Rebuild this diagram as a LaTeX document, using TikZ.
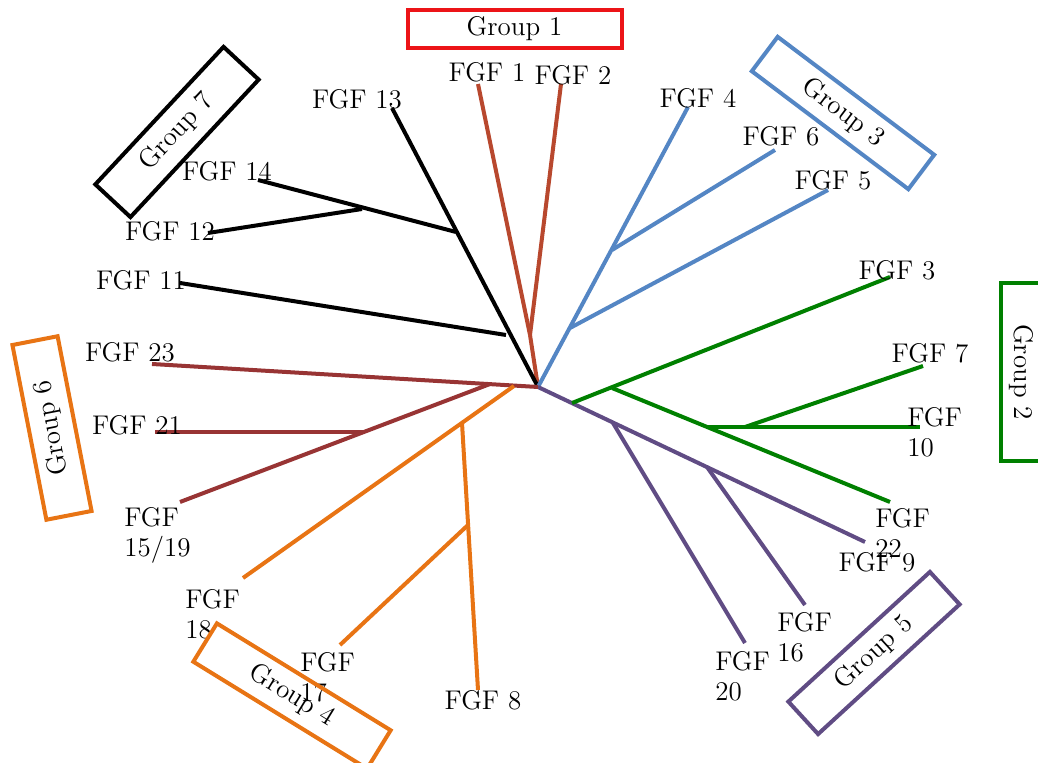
\documentclass[tikz,border=0pt]{standalone}
\usepackage{tikz}
\usetikzlibrary{positioning}
\definecolor{grpone}{RGB}{184,72,46}
\definecolor{boxone}{RGB}{236,20,24}
\definecolor{grptwo}{RGB}{0,128,0}
\definecolor{grpthree}{RGB}{84,134,196}
\definecolor{grpfour}{RGB}{232,116,20}
\definecolor{grpfive}{RGB}{96,76,132}
\definecolor{grpsix}{RGB}{152,52,52}

\begin{document}
\begin{tikzpicture}[x=0.5pt,y=-0.5pt,font=\fontsize{13.5}{15}\selectfont]
	\useasboundingbox (0,0) rectangle (1038,763);

	% branch points and leaf ends
	\coordinate (r) at (538,387);
	\coordinate (a1) at (530,335);
	\coordinate (f1) at (478,84);
	\coordinate (f2) at (561,84);

	\coordinate (b1) at (506,335);
	\coordinate (b2) at (456,232);
	\coordinate (b3) at (362,209);
	\coordinate (f13) at (392,108);
	\coordinate (f14) at (258,180);
	\coordinate (f12) at (208,233);
	\coordinate (f11) at (180,283);

	\coordinate (c1) at (570,328);
	\coordinate (c2) at (612,250);
	\coordinate (f4) at (688,107);
	\coordinate (f6) at (775,150);
	\coordinate (f5) at (828,190);

	\coordinate (d0) at (572,403);
	\coordinate (d1) at (612,388);
	\coordinate (d2) at (707,427);
	\coordinate (d3) at (745,427);
	\coordinate (f3) at (890,277);
	\coordinate (f22) at (890,502);
	\coordinate (f10) at (920,427);
	\coordinate (f7) at (923,366);

	\coordinate (e1) at (613,423);
	\coordinate (e2) at (707,467);
	\coordinate (f9) at (865,542);
	\coordinate (f20) at (745,643);
	\coordinate (f16) at (805,605);

	\coordinate (g1) at (490,384);
	\coordinate (g2) at (365,432);
	\coordinate (f23) at (152,364);
	\coordinate (f21) at (155,432);
	\coordinate (f15) at (180,502);

	\coordinate (h1) at (514,386);
	\coordinate (h2) at (462,423);
	\coordinate (h3) at (468,525);
	\coordinate (f18) at (243,578);
	\coordinate (f8) at (478,690);
	\coordinate (f17) at (340,645);

	% branches
	\begin{scope}[every edge/.style={draw=grpone, line width=2pt}]
		\path (r) edge (a1);
		\path (a1) edge (f1);
		\path (a1) edge (f2);
	\end{scope}
	\begin{scope}[every edge/.style={draw=black, line width=2pt}]
		\path (r) edge (f13);
		\path (b2) edge (f14);
		\path (b3) edge (f12);
		\path (b1) edge (f11);
	\end{scope}
	\begin{scope}[every edge/.style={draw=grpthree, line width=2pt}]
		\path (r) edge (f4);
		\path (c2) edge (f6);
		\path (c1) edge (f5);
	\end{scope}
	\begin{scope}[every edge/.style={draw=grpfive, line width=2pt}]
		\path (r) edge (f9);
		\path (e1) edge (f20);
		\path (e2) edge (f16);
	\end{scope}
	\begin{scope}[every edge/.style={draw=grptwo, line width=2pt}]
		\path (d0) edge (f3);
		\path (d1) edge (f22);
		\path (d2) edge (f10);
		\path (d3) edge (f7);
	\end{scope}
	\begin{scope}[every edge/.style={draw=grpsix, line width=2pt}]
		\path (r) edge (f23);
		\path (g1) edge (f15);
		\path (g2) edge (f21);
	\end{scope}
	\begin{scope}[every edge/.style={draw=grpfour, line width=2pt}]
		\path (h1) edge (f18);
		\path (h2) edge (f8);
		\path (h3) edge (f17);
	\end{scope}

	% leaf labels
	\begin{scope}[every node/.style={inner sep=1pt}]
		\node (l1) at (487,72) {FGF 1};
		\node (l2) at (573,75) {FGF 2};
		\node (l13) at (357,99) {FGF 13};
		\node (l14) at (227,171) {FGF 14};
		\node (l12) at (170,231) {FGF 12};
		\node (l11) at (141,280) {FGF 11};
		\node (l4) at (698,98) {FGF 4};
		\node (l6) at (781,136) {FGF 6};
		\node (l5) at (833,180) {FGF 5};
		\node (l3) at (897,270) {FGF 3};
		\node (l7) at (930,353) {FGF 7};
		\node[align=left, anchor=west] (l10) at (905,432) {FGF\\10};
		\node[align=left, anchor=west] (l22) at (873,533) {FGF\\22};
		\node (l9) at (877,562) {FGF 9};
		\node[align=left, anchor=west] (l16) at (775,637) {FGF\\16};
		\node[align=left, anchor=west] (l20) at (713,676) {FGF\\20};
		\node (l8) at (483,700) {FGF 8};
		\node[align=left, anchor=west] (l17) at (298,677) {FGF\\17};
		\node[align=left, anchor=west] (l18) at (183,614) {FGF\\18};
		\node[align=left, anchor=west] (l15) at (122,535) {FGF\\15/19};
		\node (l21) at (137,425) {FGF 21};
		\node (l23) at (130,352) {FGF 23};
	\end{scope}

	% group boxes
	\begin{scope}[every node/.style={draw, line width=2pt, inner sep=1pt}]
		\node[draw=boxone, minimum width=107pt, minimum height=19pt] (grp1) at (514.5,29) {Group 1};
		\node[rotate=47, minimum width=94pt, minimum height=24pt] (grp7) at (177,132) {Group 7};
		\node[draw=grpthree, rotate=-37, minimum width=98pt, minimum height=21.5pt] (grp3) at (843,113) {Group 3};
		\node[draw=grptwo, rotate=-90, minimum width=89pt, minimum height=20.5pt] (grp2) at (1021.5,372) {Group 2};
		\node[draw=grpfive, rotate=42.5, minimum width=96pt, minimum height=22pt] (grp5) at (874,653) {Group 5};
		\node[draw=grpfour, rotate=-31.6, minimum width=102pt, minimum height=22.5pt] (grp4) at (292,696) {Group 4};
		\node[draw=grpfour, rotate=101, minimum width=89pt, minimum height=23pt] (grp6) at (52,428) {Group 6};
	\end{scope}
\end{tikzpicture}
\end{document}
